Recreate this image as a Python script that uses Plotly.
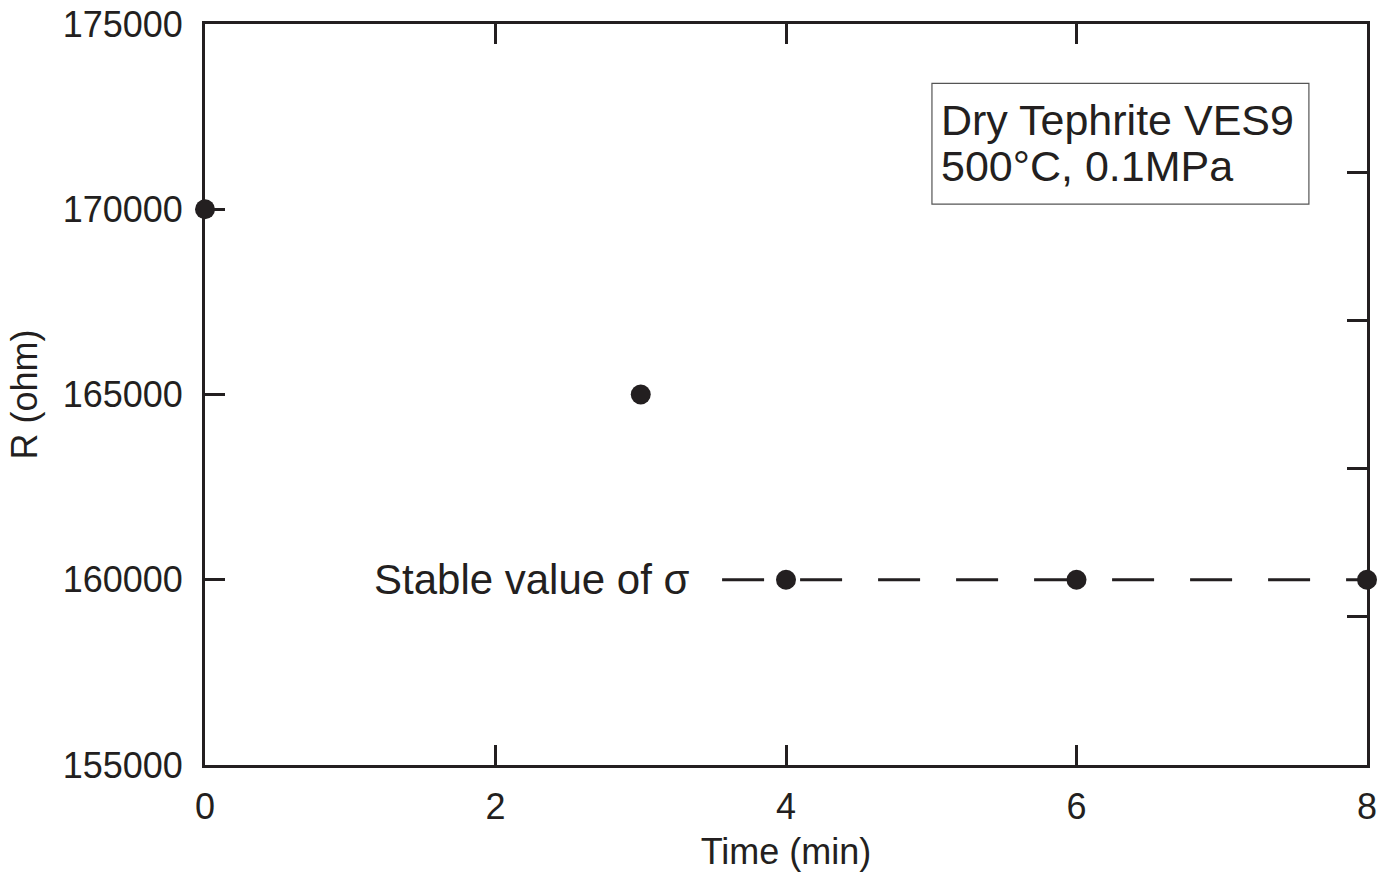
import plotly.graph_objects as go

# Data
time_min = [0, 3, 4, 6, 8]
resistance = [170000, 165000, 160000, 160000, 160000]
stable_value = 160000
stable_line_x = [3.56, 8.0]
x_ticks = [0, 2, 4, 6, 8]
y_ticks = [155000, 160000, 165000, 170000, 175000]
y_tick_labels = ["155000", "160000", "165000", "170000", "175000"]
y_ticks_right = [159000, 163000, 167000, 171000]
annot_lines = ["Dry Tephrite VES9", "500°C, 0.1MPa"]
stable_label = "Stable value of σ"

INK = "#231f20"
FONT = "Liberation Sans, Arial, sans-serif"

fig = go.Figure()

fig.add_trace(go.Scatter(
    x=stable_line_x, y=[stable_value] * len(stable_line_x),
    mode="lines", line=dict(color=INK, width=3, dash="42px,36px"),
    hoverinfo="skip", showlegend=False,
))
fig.add_trace(go.Scatter(
    x=time_min, y=resistance, mode="markers",
    marker=dict(color=INK, size=20),
    cliponaxis=False, showlegend=False,
))
# invisible trace for right axis
fig.add_trace(go.Scatter(x=[None], y=[None], yaxis="y2", showlegend=False))

axis_common = dict(
    showgrid=False, zeroline=False, showline=True, linecolor=INK, linewidth=3,
    ticks="inside", ticklen=20, tickwidth=3, tickcolor=INK,
    tickfont=dict(family=FONT, size=36, color=INK), automargin=False,
)

fig.update_layout(
    width=1391, height=872,
    margin=dict(l=205, r=24, t=24, b=107),
    plot_bgcolor="white", paper_bgcolor="white",
    font=dict(family=FONT, color=INK),
    xaxis=dict(
        **axis_common, range=[0, 8], tickvals=x_ticks, mirror="ticks",
        ticklabelstandoff=8,
        title=dict(text="Time (min)", font=dict(family=FONT, size=36, color=INK)),
    ),
    yaxis=dict(
        **axis_common, range=[155000, 175000], tickvals=y_ticks, ticktext=y_tick_labels,
        mirror=True, ticklabelstandoff=12,
        title=dict(text="R (ohm)", font=dict(family=FONT, size=36, color=INK)),
    ),
    yaxis2=dict(
        overlaying="y", side="right", range=[155000, 175000], tickvals=y_ticks_right,
        showticklabels=False, showgrid=False, zeroline=False, showline=False,
        ticks="inside", ticklen=20, tickwidth=3, tickcolor=INK, automargin=False,
    ),
    shapes=[dict(
        type="rect", xref="paper", yref="paper",
        x0=0.6256, x1=0.950, y0=0.757, y1=0.920,
        line=dict(color="#555555", width=1.2), fillcolor="rgba(0,0,0,0)",
    )],
    annotations=[
        dict(xref="paper", yref="paper", x=0.632, y=0.870, xanchor="left", yanchor="middle",
             text=annot_lines[0], showarrow=False, font=dict(family=FONT, size=43, color=INK)),
        dict(xref="paper", yref="paper", x=0.632, y=0.809, xanchor="left", yanchor="middle",
             text=annot_lines[1], showarrow=False, font=dict(family=FONT, size=43, color=INK)),
        dict(xref="x", yref="y", x=3.35, y=stable_value, xanchor="right", yanchor="middle",
             text=stable_label, showarrow=False, font=dict(family=FONT, size=42, color=INK)),
    ],
)

fig.write_html("out.html", config={"displayModeBar": False},
               post_script="document.body.style.margin='0';")
